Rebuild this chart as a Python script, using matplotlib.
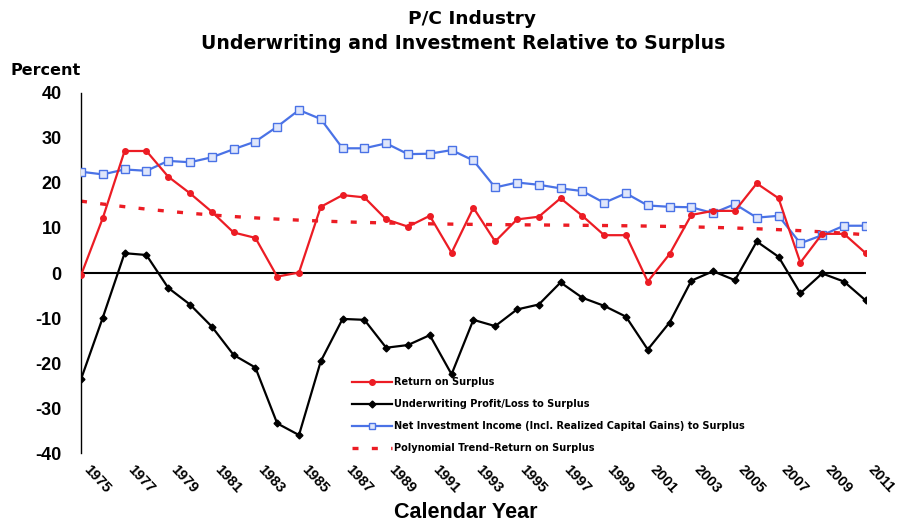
import numpy as np
import matplotlib.pyplot as plt
import matplotlib.transforms as mtransforms
from matplotlib.lines import Line2D

years = np.arange(1975, 2012)

# Return on surplus (%)
ros = [-0.5, 12.2, 27.1, 27.1, 21.4, 17.7, 13.6, 9.0, 7.8, -0.8,
       0.1, 14.7, 17.3, 16.8, 11.9, 10.3, 12.7, 4.5, 14.5, 7.0,
       11.9, 12.5, 16.6, 12.7, 8.4, 8.4, -1.9, 4.2, 12.9, 13.8,
       13.8, 19.9, 16.6, 2.3, 8.7, 8.7, 4.4]

# Underwriting profit/loss to surplus (%)
uw = [-23.6, -9.9, 4.4, 4.0, -3.3, -7.0, -11.9, -18.2, -21.0, -33.4,
      -36.0, -19.6, -10.2, -10.4, -16.6, -16.0, -13.8, -22.5, -10.4, -11.8,
      -8.1, -7.0, -2.1, -5.5, -7.3, -9.7, -17.0, -11.0, -1.7, 0.4,
      -1.6, 7.0, 3.6, -4.5, -0.1, -1.9, -6.1]

# Net investment income incl. realized capital gains to surplus (%)
nii = [22.5, 21.9, 23.0, 22.7, 24.9, 24.6, 25.7, 27.5, 29.2, 32.5,
       36.2, 34.2, 27.7, 27.7, 28.8, 26.4, 26.5, 27.3, 25.0, 19.0,
       20.1, 19.6, 18.8, 18.2, 15.6, 17.7, 15.0, 14.7, 14.6, 13.3,
       15.3, 12.3, 12.7, 6.6, 8.4, 10.5, 10.5]

yticks = [40, 30, 20, 10, 0, -10, -20, -30, -40]
xtick_years = list(range(1975, 2012, 2))

red = "#ec1c24"
blue = "#4a72e6"
trend_ls = (0, (1.8, 4.0))

fig = plt.figure(figsize=(9.02, 5.25), dpi=100)
ax = fig.add_axes([0.0898, 0.137, 0.870, 0.686])

# cubic trend line fitted to the return on surplus
coef = np.polyfit(years - 1975, ros, 3)
trend = np.polyval(coef, years - 1975)

ax.axhline(0, color="black", lw=1.5, zorder=1)
ax.plot(years, nii, color=blue, lw=1.6, marker="s", ms=5.5,
        mfc="#dfe6fb", mec=blue, mew=1.0, zorder=3)
ax.plot(years, ros, color=red, lw=1.6, marker="o", ms=4, zorder=4)
ax.plot(years, uw, color="black", lw=1.6, marker="D", ms=3.5, zorder=4)
ax.plot(years, trend, color=red, lw=2.4, ls=trend_ls, zorder=2)

ax.set_xlim(1975, 2011)
ax.set_ylim(-40, 40)
ax.set_yticks(yticks)
ax.set_yticklabels([str(v) for v in yticks], fontsize=13, fontweight="bold",
                   family="Liberation Sans")
ax.tick_params(axis="y", length=0, pad=14)
ax.set_xticks(xtick_years)
ax.set_xticklabels([str(y) for y in xtick_years], rotation=-47, ha="left",
                   va="center", rotation_mode="anchor", fontsize=10.5,
                   fontweight="bold", family="Liberation Sans")
ax.tick_params(axis="x", length=0, pad=10)
shift = mtransforms.ScaledTranslation(5 / 100, 0, fig.dpi_scale_trans)
for lbl in ax.get_xticklabels():
    lbl.set_transform(lbl.get_transform() + shift)

for side in ["top", "right", "bottom"]:
    ax.spines[side].set_visible(False)
ax.spines["left"].set_linewidth(1.0)

fig.text(0.516, 0.023, "Calendar Year", ha="center", va="center",
         fontsize=15.5, fontweight="bold", family="Liberation Sans")
fig.text(0.523, 0.963, "P/C Industry", ha="center", va="center",
         fontsize=13.3, fontweight="bold", family="DejaVu Sans")
fig.text(0.513, 0.918, "Underwriting and Investment Relative to Surplus",
         ha="center", va="center", fontsize=13.6, fontweight="bold",
         family="DejaVu Sans")
fig.text(0.012, 0.866, "Percent", ha="left", va="center", fontsize=11.5,
         fontweight="bold", family="DejaVu Sans")

handles = [
    Line2D([], [], color=red, lw=1.6, marker="o", ms=4),
    Line2D([], [], color="black", lw=1.6, marker="D", ms=3.5),
    Line2D([], [], color=blue, lw=1.6, marker="s", ms=5,
           mfc="#dfe6fb", mec=blue),
    Line2D([], [], color=red, lw=2.4, ls=trend_ls),
]
labels = [
    "Return on Surplus",
    "Underwriting Profit/Loss to Surplus",
    "Net Investment Income (Incl. Realized Capital Gains) to Surplus",
    "Polynomial Trend\u2013Return on Surplus",
]
ax.legend(handles, labels, loc="upper left", bbox_to_anchor=(0.340, 0.222),
          frameon=False, prop={"family": "DejaVu Sans", "weight": "bold",
                               "size": 7}, handlelength=4.1,
          handletextpad=0.2, labelspacing=1.25, borderaxespad=0)

fig.savefig("out.png", dpi=100)
